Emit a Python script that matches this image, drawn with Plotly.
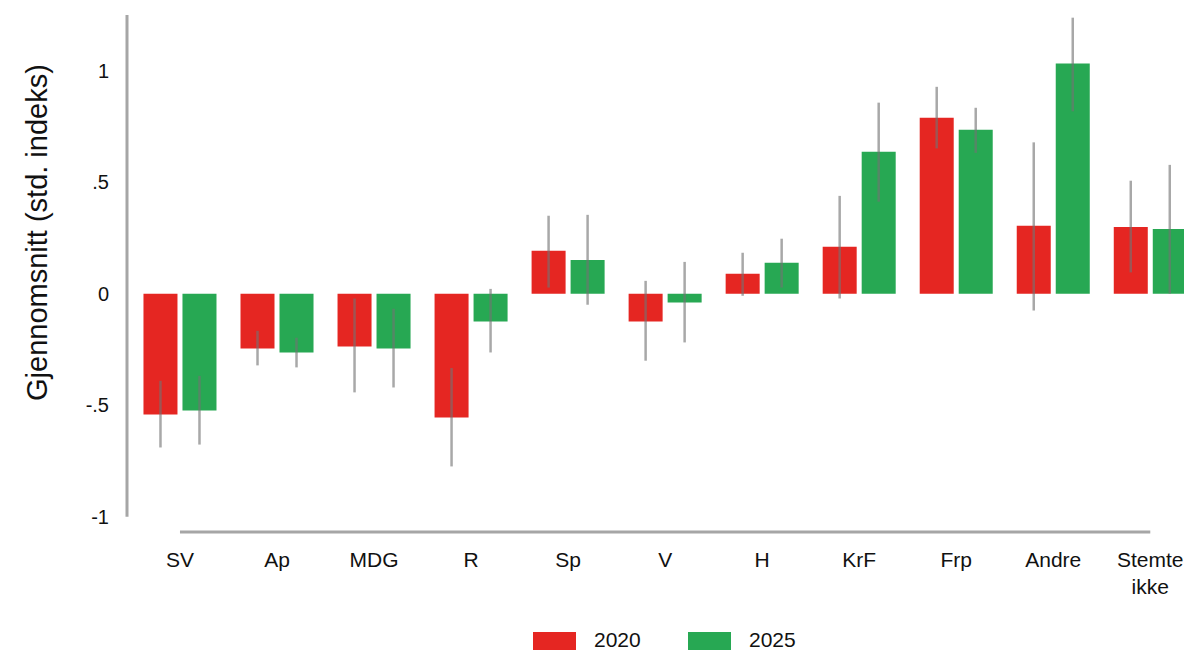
import plotly.graph_objects as go

categories = ["SV", "Ap", "MDG", "R", "Sp", "V", "H", "KrF", "Frp", "Andre", "Stemte<br>ikke"]
years = ["2020", "2025"]

mean_2020 = [-0.541, -0.245, -0.236, -0.555, 0.193, -0.124, 0.090, 0.211, 0.789, 0.305, 0.300]
lo_2020 = [-0.689, -0.321, -0.442, -0.774, 0.028, -0.300, -0.009, -0.021, 0.652, -0.075, 0.096]
hi_2020 = [-0.390, -0.166, -0.021, -0.333, 0.350, 0.058, 0.184, 0.439, 0.928, 0.679, 0.507]

mean_2025 = [-0.523, -0.263, -0.245, -0.124, 0.152, -0.039, 0.139, 0.637, 0.735, 1.033, 0.291]
lo_2025 = [-0.676, -0.330, -0.420, -0.263, -0.049, -0.218, 0.028, 0.413, 0.632, 0.818, 0.001]
hi_2025 = [-0.368, -0.197, -0.067, 0.022, 0.354, 0.143, 0.247, 0.857, 0.834, 1.238, 0.578]

ytick_vals = [-1, -0.5, 0, 0.5, 1]
ytick_text = ["-1", "-.5", "0", ".5", "1"]
y_title = "Gjennomsnitt (std. indeks)"

colors = {"2020": "#e52622", "2025": "#27a853"}
err_color = "rgba(115,115,115,0.62)"
axis_color = "#a6a6a6"
FONT = "Liberation Sans, Arial, Helvetica, sans-serif"

x_idx = list(range(len(categories)))

fig = go.Figure()
for yr, m, lo, hi in [("2020", mean_2020, lo_2020, hi_2020), ("2025", mean_2025, lo_2025, hi_2025)]:
    fig.add_trace(go.Bar(
        x=x_idx, y=m, name=yr,
        marker=dict(color=colors[yr], line=dict(width=0)),
        error_y=dict(type="data", symmetric=False,
                     array=[h - v for h, v in zip(hi, m)],
                     arrayminus=[v - l for l, v in zip(lo, m)],
                     color=err_color, thickness=2.5, width=0),
        showlegend=False,
    ))

shapes = [
    # left axis line from -1 to top
    dict(type="line", xref="paper", yref="y", x0=0, x1=0, y0=-1, y1=1.25,
         line=dict(color=axis_color, width=3)),
    # bottom axis line from first to last category
    dict(type="line", xref="x", yref="paper", x0=0, x1=len(categories) - 1, y0=0, y1=0,
         line=dict(color=axis_color, width=3)),
]

# page-pixel helpers -> paper coords (plot area: x 127..1192, y 15..532 on page)
def px(X):
    return (X - 127) / 1065

def py(Y):
    return (532 - Y) / 517

annotations = [
    dict(text=y_title, xref="paper", yref="paper", x=px(37), y=py(233),
         xanchor="center", yanchor="middle", textangle=-90, showarrow=False,
         font=dict(size=29, color="#111", family=FONT)),
]

# custom legend (boxes + text)
leg_items = [("2020", 533, 592), ("2025", 688, 747)]
for yr, bx, tx in leg_items:
    shapes.append(dict(type="rect", xref="paper", yref="paper",
                       x0=px(bx), x1=px(bx + 43), y0=py(652), y1=py(632),
                       fillcolor=colors[yr], line=dict(width=0)))
    annotations.append(dict(text=yr, xref="paper", yref="paper",
                            x=px(tx), y=py(639),
                            xanchor="left", yanchor="middle", showarrow=False,
                            font=dict(size=21, color="#111", family=FONT)))

fig.update_layout(
    width=1184, height=642,
    margin=dict(l=119, r=0, t=7, b=118),
    plot_bgcolor="white", paper_bgcolor="white",
    barmode="group", bargap=0.196, bargroupgap=0.128,
    font=dict(family=FONT, size=21, color="#111"),
    shapes=shapes, annotations=annotations,
    xaxis=dict(range=[-0.546, 10.43], tickvals=x_idx, ticktext=categories,
               showgrid=False, zeroline=False, showline=False, ticks="",
               tickfont=dict(size=21), ticklabelstandoff=13),
    yaxis=dict(range=[-1.068, 1.25], tickvals=ytick_vals, ticktext=ytick_text,
               showgrid=False, zeroline=False, showline=False, ticks="",
               tickfont=dict(size=20), ticklabelstandoff=17),
)

fig.write_html("out.html")
